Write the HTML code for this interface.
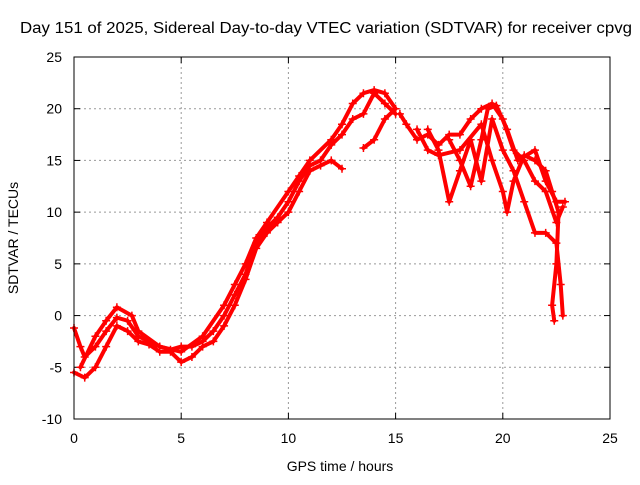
<!DOCTYPE html>
<html><head><meta charset="utf-8"><style>
body{margin:0;background:#fff;}
svg text{font-family:"Liberation Sans",sans-serif;font-size:14px;fill:#000;}
</style></head><body>
<svg id="chart" width="640" height="480" viewBox="0 0 640 480" xmlns="http://www.w3.org/2000/svg">
<rect width="640" height="480" fill="#fff"/>
<text x="20" y="33" textLength="612" lengthAdjust="spacingAndGlyphs" style="font-size:15.5px">Day 151 of 2025, Sidereal Day-to-day VTEC variation (SDTVAR) for receiver cpvg</text>
<g id="grid"></g>
<g id="axes"></g>
<g id="series"></g>
<rect x="74" y="57" width="536" height="362" fill="none" stroke="#000" stroke-width="1"/>
<text x="340" y="471" text-anchor="middle">GPS time / hours</text>
<text transform="translate(18,238) rotate(-90)" text-anchor="middle">SDTVAR / TECUs</text>
</svg>
<script>
const xTicks=[0,5,10,15,20,25];
const yTicks=[-10,-5,0,5,10,15,20,25];
const trackA=[[0,-1.2],[0.3,-3],[0.5,-4],[1,-3],[1.5,-1.5],[2,-0.2],[2.5,-0.5],[3,-2],[3.5,-2.5],[4,-3],[4.5,-3.3],[5,-3],[5.5,-3],[6,-2.5],[6.5,-1.5],[7,0],[7.5,2],[8,4],[8.5,7],[9,8.5],[9.5,9.5],[10,11],[10.5,13],[11,14.5],[11.5,15],[12,16.5],[12.5,17.5],[13,19],[13.5,19.5],[14,21.5],[14.5,20.5],[15,19.5]];
const trackB=[[0,-5.5],[0.5,-6],[1,-5],[1.5,-3],[2,-1],[2.5,-1.5],[3,-2.5],[3.5,-2.8],[4,-3.5],[4.5,-3.5],[5,-4.5],[5.5,-4],[6,-3],[6.5,-2.5],[7,-1],[7.5,1],[8,3.5],[8.5,6.5],[9,8],[9.5,9],[10,10],[10.5,12],[11,14],[11.5,14.5],[12,15],[12.5,14.2]];
const trackC=[[0.3,-5],[1,-2],[1.5,-0.5],[2,0.8],[2.7,0],[3,-1.5],[4,-3],[5,-3.5],[6,-2],[7,1],[7.5,3],[8,5],[8.5,7.5],[9,9],[10,12],[10.5,13.5],[11,15],[12,17],[12.5,18.5],[13,20.5],[13.5,21.5],[14,21.8],[14.5,21.5],[15,20],[14.5,19],[14,17],[13.5,16.2]];
const trackD=[[15.2,19.5],[15.5,18.5],[16,17],[16.5,17.5],[17,16.5],[17.5,17.5],[18,17.5],[18.5,19],[19,20],[19.5,20.5],[20,19],[20.5,16],[21,15],[21.5,13],[22,12],[22.5,9],[22.8,10.5]];
const trackE=[[16.5,18],[17,16],[17.5,11],[18,14],[18.5,17],[19,13],[19.5,19],[20,16],[20.5,14],[21,11],[21.5,8],[22,8],[22.5,7],[22.7,3],[22.8,0]];
const trackF=[[16,18],[16.5,16],[17,15.5],[18,16],[19,18.5],[19.5,15],[20,12],[20.2,10],[20.5,13],[21,15.5],[21.5,15],[22,14],[22.3,12],[22.6,10],[22.5,5],[22.3,1],[22.4,-0.5]];
const trackG=[[17.5,17],[18,15],[18.5,12.5],[19,17],[19.3,20],[19.7,20.3],[20.2,18],[20.7,15],[21.5,16],[22,13],[22.5,11],[22.9,11]];
const tracks=[trackA,trackB,trackC,trackD,trackE,trackF,trackG];
const X0=74,X1=610,Y0=419,Y1=57;
const sx=v=>X0+(v-0)/(25-0)*(X1-X0);
const sy=v=>Y0-(v+10)/(35)*(Y0-Y1);
const NS="http://www.w3.org/2000/svg";
const grid=document.getElementById('grid'),axes=document.getElementById('axes'),ser=document.getElementById('series');
function mk(t,a,p){const e=document.createElementNS(NS,t);for(const k in a)e.setAttribute(k,a[k]);p.appendChild(e);return e;}
xTicks.forEach(v=>{
 const x=sx(v);
 if(v>0&&v<25){const g=mk('line',{x1:x,x2:x,y1:Y0,y2:Y1,stroke:'#999','stroke-dasharray':'2,3','stroke-width':1},grid);
 
 }
 mk('line',{x1:x,x2:x,y1:Y0,y2:Y0-6,stroke:'#000'},axes);
 mk('line',{x1:x,x2:x,y1:Y1,y2:Y1+6,stroke:'#000'},axes);
 const t=mk('text',{x:x,y:Y0+24,'text-anchor':'middle'},axes);t.textContent=v;
 
 
});
yTicks.forEach(v=>{
 const y=sy(v);
 if(v>-10&&v<25){const g=mk('line',{x1:X0,x2:X1,y1:y,y2:y,stroke:'#999','stroke-dasharray':'2,3','stroke-width':1},grid);
 
 }
 mk('line',{x1:X0,x2:X0+6,y1:y,y2:y,stroke:'#000'},axes);
 mk('line',{x1:X1,x2:X1-6,y1:y,y2:y,stroke:'#000'},axes);
 const t=mk('text',{x:X0-12,y:y+5,'text-anchor':'end'},axes);t.textContent=v;
 
 
});
tracks.forEach((tr,i)=>{
 const p=mk('polyline',{points:tr.map(d=>sx(d[0])+','+sy(d[1])).join(' '),fill:'none',stroke:'#f00','stroke-width':4,'stroke-linejoin':'round','stroke-linecap':'round'},ser);
 
 
 tr.forEach(d=>{
  const x=sx(d[0]),y=sy(d[1]);
  const m=mk('path',{d:`M${x-4},${y}H${x+4}M${x},${y-4}V${y+4}`,stroke:'#f00','stroke-width':1.5},ser);
  
  
 });
});
</script>
</body></html>
